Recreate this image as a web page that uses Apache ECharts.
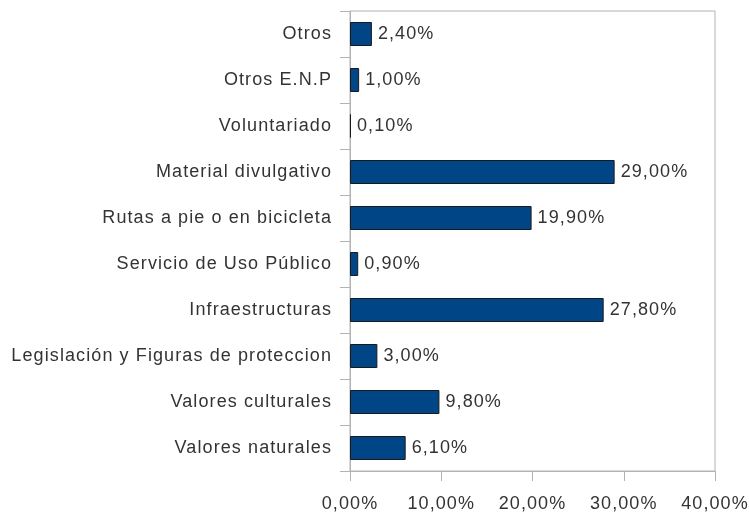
<!DOCTYPE html>
<html><head><meta charset="utf-8">
<script src="https://cdn.jsdelivr.net/npm/echarts@6/dist/echarts.min.js"></script>
<style>html,body{margin:0;padding:0;background:#fff}#c{width:749px;height:512px}</style>
</head><body><div id="c"></div>
<script>
const categories = ["Valores naturales","Valores culturales","Legislación y Figuras de proteccion","Infraestructuras","Servicio de Uso Público","Rutas a pie o en bicicleta","Material divulgativo","Voluntariado","Otros E.N.P","Otros"];
const values = [6.1, 9.8, 3.0, 27.8, 0.9, 19.9, 29.0, 0.1, 1.0, 2.4];
const xTicks = [0, 10, 20, 30, 40];
const fmt = v => v.toFixed(2).replace('.', ',') + '%';
const FF = 'Liberation Sans', FS = 18;
// widen glyph spacing slightly, like the reference's hinted rendering
(function(){
  const P = CanvasRenderingContext2D.prototype;
  const d = Object.getOwnPropertyDescriptor(P, 'font');
  if (d && 'letterSpacing' in P) {
    Object.defineProperty(P, 'font', {configurable: true,
      get(){ return d.get.call(this); },
      set(v){ d.set.call(this, v); this.letterSpacing = '1.1px'; }});
  }
})();
const chart = echarts.init(document.getElementById('c'));
chart.setOption({
  animation: false,
  grid: {left: 350, right: 34, top: 11, bottom: 41, show: true, borderColor: '#b3b3b3', borderWidth: 1,
    containLabel: false, outerBoundsMode: 'none'},
  xAxis: {type: 'value', min: xTicks[0], max: xTicks[xTicks.length-1], interval: 10,
    axisLine: {show: true, lineStyle: {color: '#b3b3b3'}},
    axisTick: {show: true, length: 10, lineStyle: {color: '#b3b3b3'}},
    splitLine: {show: false},
    axisLabel: {formatter: v => fmt(v), color: '#333', fontSize: FS, fontFamily: FF, margin: 23}},
  yAxis: {type: 'category', data: categories,
    axisLine: {show: true, lineStyle: {color: '#b3b3b3'}},
    axisTick: {show: true, length: 10, alignWithLabel: false, lineStyle: {color: '#b3b3b3'}},
    axisLabel: {color: '#333', fontSize: FS, fontFamily: FF, margin: 18}},
  series: [{type: 'bar', data: values, barWidth: 24,
    itemStyle: {color: '#004586', borderColor: '#1a1a1a', borderWidth: 1},
    label: {show: true, position: 'right', distance: 6, formatter: p => fmt(p.value), color: '#333', fontSize: FS, fontFamily: FF}}]
});
</script></body></html>
